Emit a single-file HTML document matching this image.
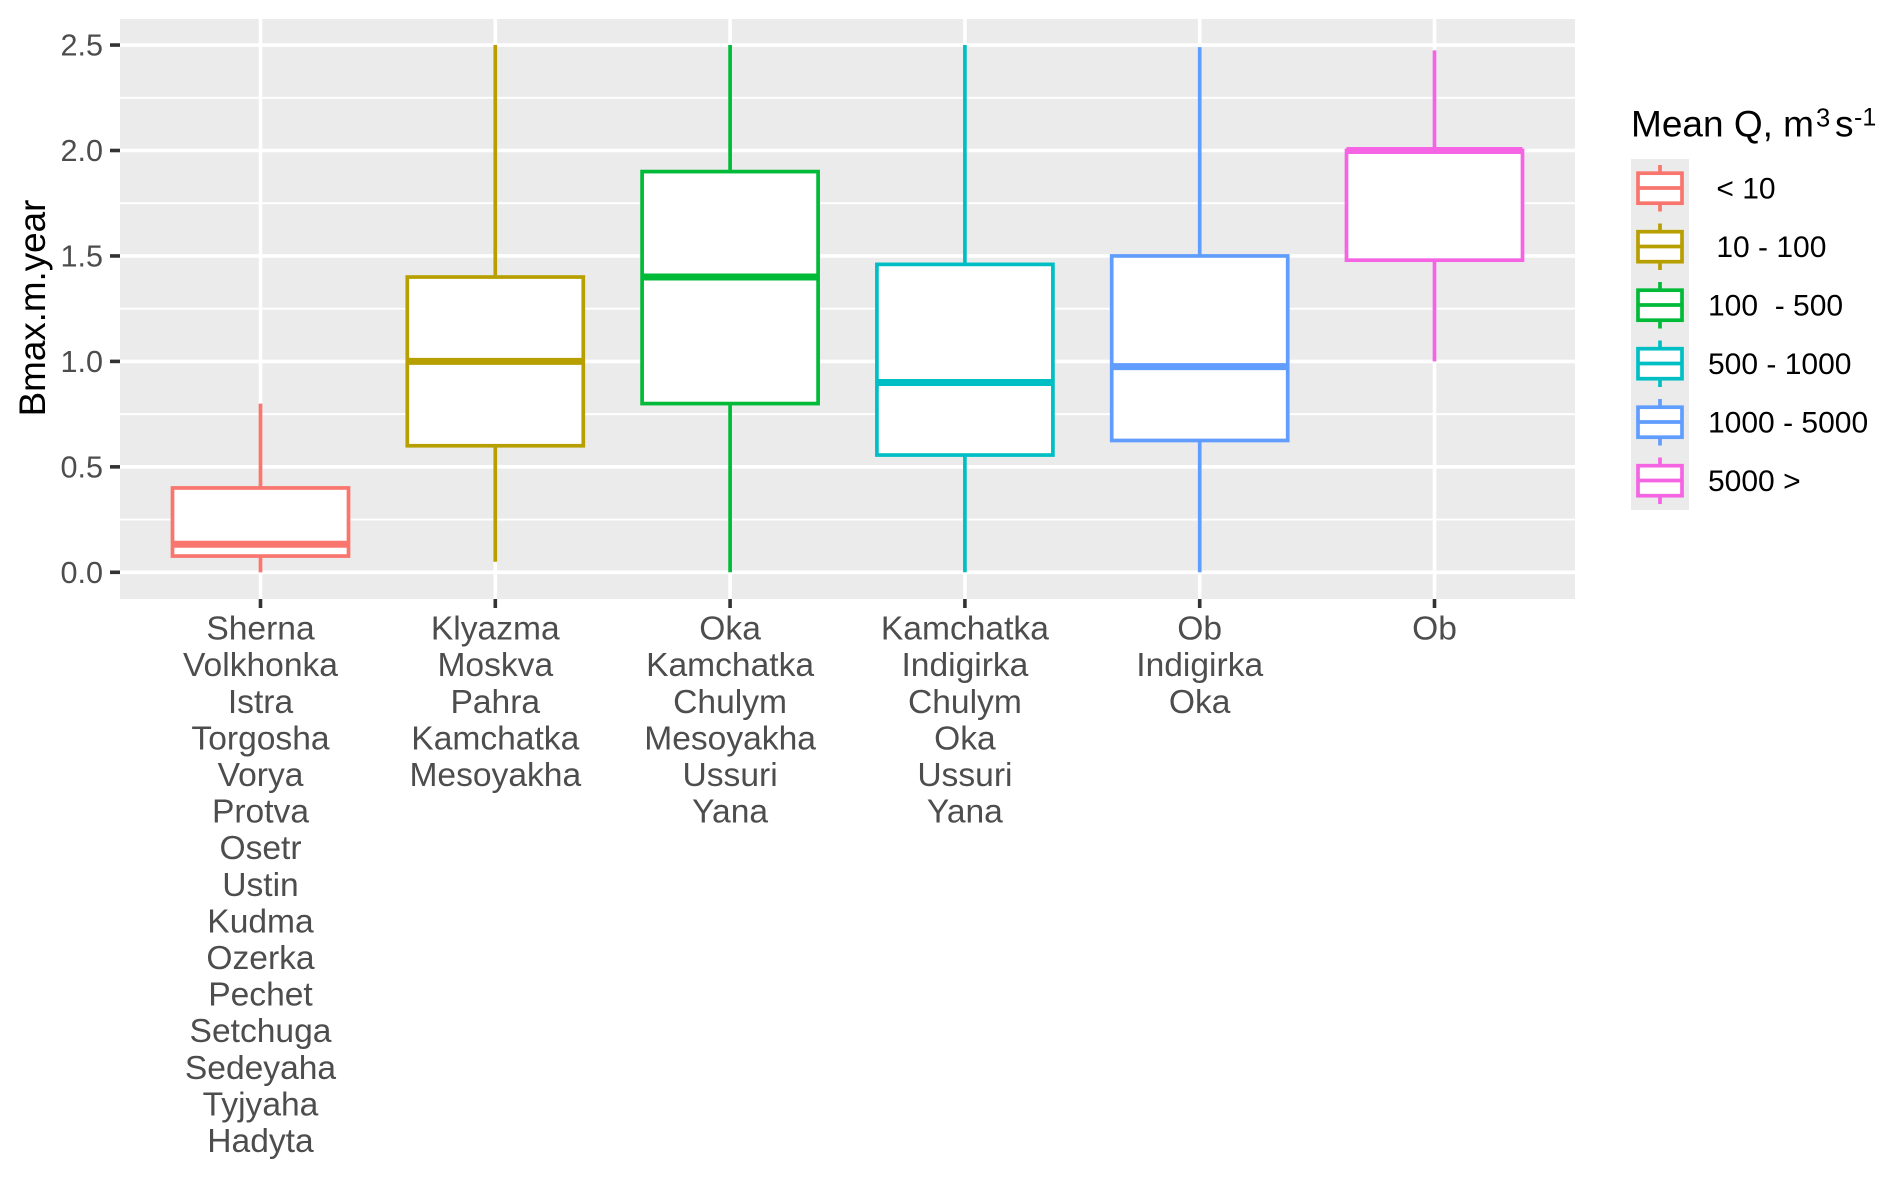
<!DOCTYPE html>
<html>
<head>
<meta charset="utf-8">
<title>Bmax.m.year by Mean Q class</title>
<style>
html,body{margin:0;padding:0;background:#fff;width:1892px;height:1178px;overflow:hidden}
svg{display:block}
text{font-family:"Liberation Sans",sans-serif;white-space:pre}
</style>
</head>
<body>
<svg id="chart" xmlns="http://www.w3.org/2000/svg" width="1892" height="1178" viewBox="0 0 1892 1178"></svg>
<script>
var categoryLabels = [
  ["Sherna","Volkhonka","Istra","Torgosha","Vorya","Protva","Osetr","Ustin","Kudma","Ozerka","Pechet","Setchuga","Sedeyaha","Tyjyaha","Hadyta"],
  ["Klyazma","Moskva","Pahra","Kamchatka","Mesoyakha"],
  ["Oka","Kamchatka","Chulym","Mesoyakha","Ussuri","Yana"],
  ["Kamchatka","Indigirka","Chulym","Oka","Ussuri","Yana"],
  ["Ob","Indigirka","Oka"],
  ["Ob"]
];
var whiskerLow  = [0.00, 0.05, 0.00, 0.00, 0.00, 1.00];
var boxQ1       = [0.077, 0.60, 0.80, 0.556, 0.625, 1.48];
var boxMedian   = [0.133, 1.00, 1.40, 0.90, 0.975, 2.00];
var boxQ3       = [0.40, 1.40, 1.90, 1.46, 1.50, 2.00];
var whiskerHigh = [0.80, 2.50, 2.50, 2.50, 2.49, 2.475];
var legendLabels = [" < 10", " 10 - 100", "100  - 500", "500 - 1000", "1000 - 5000", "5000 >"];
var seriesColors = ["#F8766D", "#B79F00", "#00BA38", "#00BFC4", "#619CFF", "#F564E3"];
var yTicks = [0, 0.5, 1, 1.5, 2, 2.5];
var yMinorTicks = [0.25, 0.75, 1.25, 1.75, 2.25];
var yTickLabels = ["0.0", "0.5", "1.0", "1.5", "2.0", "2.5"];

var NS = "http://www.w3.org/2000/svg";
var svg = document.getElementById("chart");
var panel = {left: 120, right: 1575, top: 19, bottom: 599};

function xScale(i) { return 260.5 + i * 234.8; }
function yScale(v) { return 572.3 - v * 210.9; }

function make(tag, attrs, parent, text) {
  var el = document.createElementNS(NS, tag);
  for (var k in attrs) el.setAttribute(k, attrs[k]);
  if (text !== undefined) el.textContent = text;
  (parent || svg).appendChild(el);
  return el;
}

var panelRect = make("rect", {x: panel.left, y: panel.top, width: panel.right - panel.left, height: panel.bottom - panel.top, fill: "#EBEBEB"});



yMinorTicks.forEach(function (v) {
  var g = make("line", {x1: panel.left, x2: panel.right, y1: yScale(v), y2: yScale(v), stroke: "#fff", "stroke-width": 1.9});
  
  
});

yTicks.forEach(function (v, i) {
  var g = make("line", {x1: panel.left, x2: panel.right, y1: yScale(v), y2: yScale(v), stroke: "#fff", "stroke-width": 3.6});
  
  
  var t = make("line", {x1: 110, x2: panel.left, y1: yScale(v), y2: yScale(v), stroke: "#333", "stroke-width": 3.6});
  
  
  var l = make("text", {x: 103, y: yScale(v) + 10.5, "text-anchor": "end", "font-size": 30.6, fill: "#4D4D4D"}, svg, yTickLabels[i]);
  
  
});

categoryLabels.forEach(function (lines, i) {
  var cx = xScale(i);
  var g = make("line", {x1: cx, x2: cx, y1: panel.top, y2: panel.bottom, stroke: "#fff", "stroke-width": 3.6});
  
  
  var t = make("line", {x1: cx, x2: cx, y1: panel.bottom, y2: 608, stroke: "#333", "stroke-width": 3.6});
  
  
  lines.forEach(function (name, j) {
    var l = make("text", {x: cx, y: 639.6 + j * 36.6, "text-anchor": "middle", "font-size": 33.6, fill: "#4D4D4D"}, svg, name);
    
    
  });
});

categoryLabels.forEach(function (lines, i) {
  var cx = xScale(i), col = seriesColors[i], halfW = 88;
  var group = make("g", {});
  
  
  var wu = make("line", {x1: cx, x2: cx, y1: yScale(boxQ3[i]), y2: yScale(whiskerHigh[i]), stroke: col, "stroke-width": 3.7}, group);
  
  
  var wl = make("line", {x1: cx, x2: cx, y1: yScale(boxQ1[i]), y2: yScale(whiskerLow[i]), stroke: col, "stroke-width": 3.7}, group);
  
  
  var b = make("rect", {x: cx - halfW, width: halfW * 2, y: yScale(boxQ3[i]), height: yScale(boxQ1[i]) - yScale(boxQ3[i]), fill: "#fff", stroke: col, "stroke-width": 3.7}, group);
  
  
  var m = make("line", {x1: cx - halfW, x2: cx + halfW, y1: yScale(boxMedian[i]), y2: yScale(boxMedian[i]), stroke: col, "stroke-width": 7}, group);
  
  
});

var yTitle = make("text", {transform: "translate(45,308) rotate(-90)", "text-anchor": "middle", "font-size": 36.8, fill: "#000"}, svg, "Bmax.m.year");



var legendTitle = make("text", {x: 1631, y: 136.5, "font-size": 37, fill: "#000"});


make("tspan", {}, legendTitle, "Mean Q, m");
make("tspan", {x: 1816, y: 126.5, "font-size": 25.5}, legendTitle, "3");
make("tspan", {x: 1835, y: 136.5}, legendTitle, "s");
make("tspan", {x: 1854, y: 125.5, "font-size": 25}, legendTitle, "-1");

var legendBg = make("rect", {x: 1631, y: 159, width: 58, height: 351, fill: "#EBEBEB"});



legendLabels.forEach(function (label, i) {
  var cy = 188 + i * 58.5, cx = 1660, col = seriesColors[i];
  var entry = make("g", {});
  
  
  make("line", {x1: cx, x2: cx, y1: cy - 23, y2: cy + 23.5, stroke: col, "stroke-width": 3.7}, entry);
  make("rect", {x: cx - 22, y: cy - 14.8, width: 44, height: 30, fill: "#fff", stroke: col, "stroke-width": 3.7}, entry);
  make("line", {x1: cx - 22, x2: cx + 22, y1: cy, y2: cy, stroke: col, "stroke-width": 3.7}, entry);
  var l = make("text", {x: 1708, y: cy + 10.5, "font-size": 30, fill: "#000"}, entry, label);
  
  
});
</script>
</body>
</html>
